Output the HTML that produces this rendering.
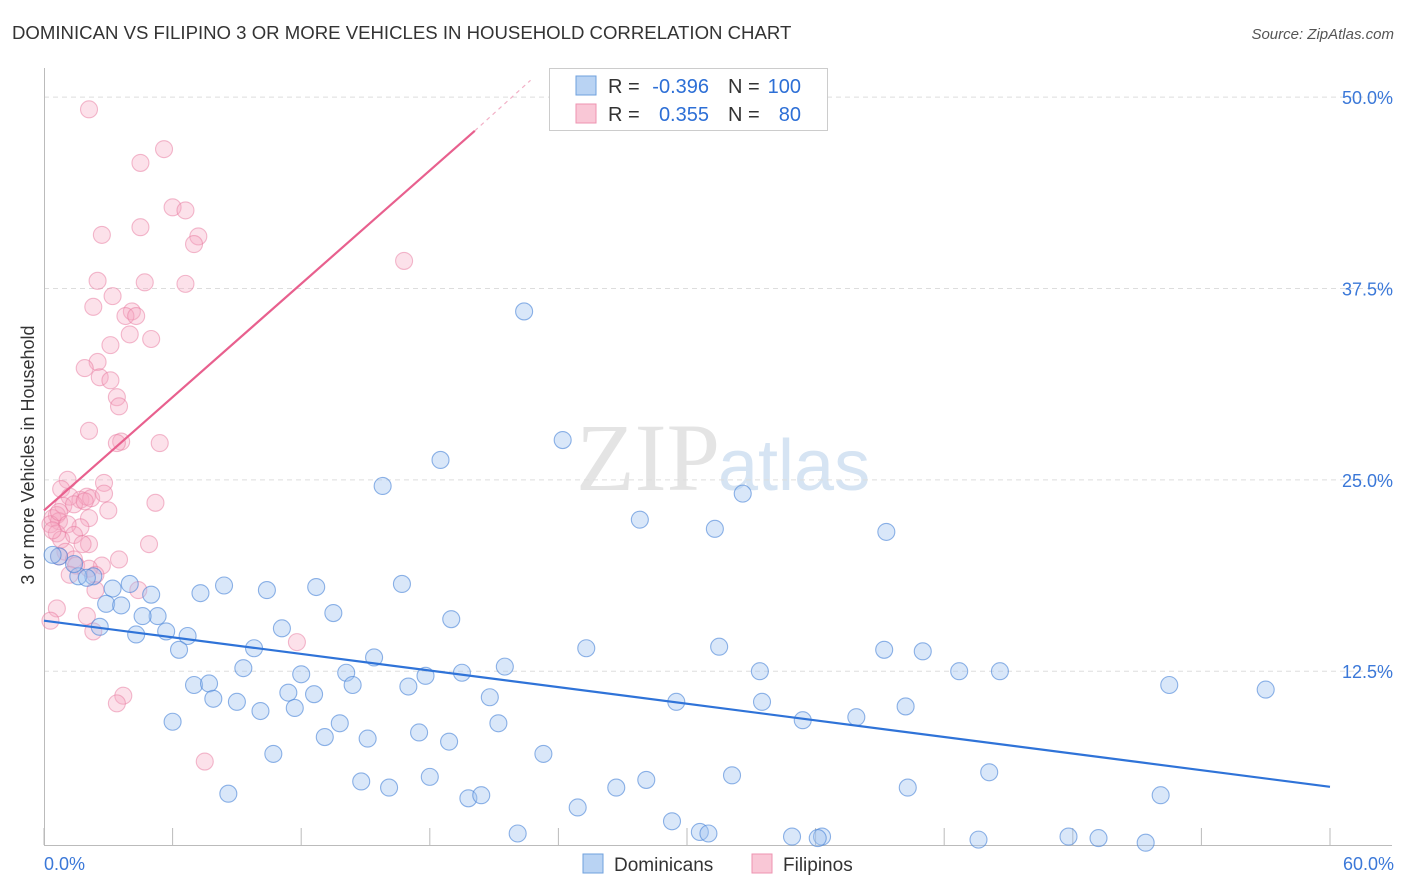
<!DOCTYPE html>
<html><head><meta charset="utf-8">
<style>
body{margin:0;background:#fff;font-family:"Liberation Sans",sans-serif;}
#wrap{position:relative;width:1406px;height:892px;overflow:hidden;}
</style></head>
<body>
<div id="wrap">
<svg id="svg" width="1406" height="892" xmlns="http://www.w3.org/2000/svg">
<text x="12" y="39" font-size="18.6" fill="#333">DOMINICAN VS FILIPINO 3 OR MORE VEHICLES IN HOUSEHOLD CORRELATION CHART</text>
<text x="1394" y="39" font-size="15" fill="#555" font-style="italic" text-anchor="end">Source: ZipAtlas.com</text>
<text x="720" y="490" font-size="96" fill="#e4e4e4" text-anchor="end" font-family="Liberation Serif,serif">ZIP</text>
<text x="718" y="490" font-size="72" fill="#d6e4f3">atlas</text>
<text transform="translate(34,455) rotate(-90)" font-size="18" fill="#333" text-anchor="middle">3 or more Vehicles in Household</text>
<g id="grid"></g><g id="pts"></g><g id="lines"></g>
<g>
<rect x="549.5" y="68.5" width="278" height="62" fill="#fff" stroke="#ccc"/>
<rect x="576" y="76" width="20" height="19" fill="#b9d3f3" stroke="#6fa0de"/>
<rect x="576" y="104" width="20" height="19" fill="#f9c7d6" stroke="#ee93b0"/>
<text x="608" y="93" font-size="20" fill="#333">R =</text>
<text x="709" y="93" font-size="20" fill="#2d6fd6" text-anchor="end">-0.396</text>
<text x="728" y="93" font-size="20" fill="#333">N =</text>
<text x="801" y="93" font-size="20" fill="#2d6fd6" text-anchor="end">100</text>
<text x="608" y="121" font-size="20" fill="#333">R =</text>
<text x="709" y="121" font-size="20" fill="#2d6fd6" text-anchor="end">0.355</text>
<text x="728" y="121" font-size="20" fill="#333">N =</text>
<text x="801" y="121" font-size="20" fill="#2d6fd6" text-anchor="end">80</text>
</g>
<g>
<rect x="583" y="854" width="20" height="19" fill="#b9d3f3" stroke="#6fa0de"/>
<text x="614" y="871" font-size="19" fill="#333">Dominicans</text>
<rect x="752" y="854" width="20" height="19" fill="#f9c7d6" stroke="#ee93b0"/>
<text x="783" y="871" font-size="19" fill="#333">Filipinos</text>
</g>
</svg>
</div>
<script>
const xTicks=[0,6,12,18,24,30,36,42,48,54,60];
const yTicks=[12.5,25,37.5,50];
const yTickLabels=["12.5%","25.0%","37.5%","50.0%"];
const xTickLabels=["0.0%","60.0%"];
const blueX=[22.4,24.2,18.5,15.8,32.6,27.8,31.3,39.3,16.7,8.4,10.4,12.7,7.3,5.0,4.0,3.2,2.3,1.6,2.0,1.4,0.7,0.4,2.9,3.6,5.3,4.6,13.5,19.0,11.1,4.3,5.7,6.7,2.6,6.3,9.8,15.4,25.3,31.5,39.2,41.0,21.5,19.5,17.8,14.1,12.0,9.3,33.4,42.7,44.6,7.0,7.7,7.9,9.0,11.4,12.6,10.1,11.7,14.4,17.0,20.8,29.5,33.5,37.9,40.2,52.5,57.0,6.0,13.8,21.2,35.4,13.1,15.1,17.5,18.9,10.7,23.3,8.6,14.8,16.1,18.0,19.8,20.4,24.9,26.7,28.1,32.1,40.3,44.1,52.1,22.1,29.3,30.6,31.0,34.9,36.3,36.1,43.6,47.8,49.2,51.4];
const blueY=[36.0,27.6,26.3,24.6,24.1,22.4,21.8,21.6,18.2,18.1,17.8,18.0,17.6,17.5,18.2,17.9,18.7,18.7,18.6,19.5,20.0,20.1,16.9,16.8,16.1,16.1,16.3,15.9,15.3,14.9,15.1,14.8,15.4,13.9,14.0,13.4,14.0,14.1,13.9,13.8,12.8,12.4,12.2,12.4,12.3,12.7,12.5,12.5,12.5,11.6,11.7,10.7,10.5,11.1,11.0,9.9,10.1,11.6,11.5,10.8,10.5,10.5,9.5,10.2,11.6,11.3,9.2,9.1,9.1,9.3,8.2,8.1,8.5,7.9,7.1,7.1,4.5,5.3,4.9,5.6,4.2,4.4,3.6,4.9,5.4,5.7,4.9,5.9,4.4,1.9,2.7,2.0,1.9,1.7,1.7,1.6,1.5,1.7,1.6,1.3];
const pinkX=[2.1,5.6,4.5,6.0,6.6,2.7,4.5,7.2,7.0,16.8,2.5,4.7,6.6,3.2,2.3,4.1,3.8,4.3,5.0,3.1,4.0,2.5,1.9,2.6,3.1,3.4,3.5,2.1,3.6,3.4,5.4,1.1,0.8,2.8,1.2,1.7,2.0,2.2,2.8,0.9,1.4,1.9,5.2,3.0,0.6,0.4,0.7,2.1,0.3,1.7,0.6,0.8,2.1,4.9,1.0,0.7,1.4,3.5,2.7,1.5,2.1,2.4,2.4,4.4,0.6,2.0,0.3,2.3,11.8,3.7,3.4,7.5,0.4,0.7,1.1,1.4,1.8,1.2];
const pinkY=[49.2,46.6,45.7,42.8,42.6,41.0,41.5,40.9,40.4,39.3,38.0,37.9,37.8,37.0,36.3,36.0,35.7,35.7,34.2,33.8,34.5,32.7,32.3,31.7,31.5,30.4,29.8,28.2,27.5,27.4,27.4,25.0,24.4,24.8,23.9,23.7,23.9,23.8,24.1,23.3,23.4,23.6,23.5,23.0,22.7,22.5,22.3,22.5,22.1,21.9,21.5,21.1,20.8,20.8,20.3,20.0,19.8,19.8,19.4,19.4,19.2,18.8,17.8,17.8,16.6,16.1,15.8,15.1,14.4,10.9,10.4,6.6,21.7,22.9,22.1,21.4,20.8,18.8];
const blueTrend=[[0,15.8],[60,4.95]];
const pinkTrend=[[0,23.0],[20.1,47.8]];
const pinkTrendExt=[[20.1,47.8],[22.7,51.1]];

const NS="http://www.w3.org/2000/svg";
const X=v=>44+v*(1286/60);
const Y=v=>862.6-v*15.31;
function mk(tag,parent,attrs){const e=document.createElementNS(NS,tag);for(const k in attrs)e.setAttribute(k,attrs[k]);parent.appendChild(e);return e;}
const grid=document.getElementById('grid'),pts=document.getElementById('pts'),lines=document.getElementById('lines');
yTicks.forEach((t,i)=>{
 const l=mk('line',grid,{x1:44,x2:1392,y1:Y(t),y2:Y(t),stroke:'#ddd','stroke-dasharray':'5,4'});
 
 
 const tx=mk('text',grid,{x:1393,y:Y(t)+7,'font-size':18,fill:'#3b78d8','text-anchor':'end'});
 tx.textContent=yTickLabels[i];
 
 
});
const ax=mk('line',grid,{x1:44,x2:1392,y1:845.5,y2:845.5,stroke:'#bbb'});


const ay=mk('line',grid,{x1:44.5,x2:44.5,y1:68,y2:845,stroke:'#bbb'});


xTicks.forEach(t=>{
 const l=mk('line',grid,{x1:X(t),x2:X(t),y1:828,y2:845,stroke:'#bbb'});
 
 
});
const xl0=mk('text',grid,{x:44,y:870,'font-size':18,fill:'#3b78d8'});xl0.textContent=xTickLabels[0];


const xl1=mk('text',grid,{x:1394,y:870,'font-size':18,fill:'#3b78d8','text-anchor':'end'});xl1.textContent=xTickLabels[1];


pinkX.forEach((v,i)=>{
 const c=mk('circle',pts,{cx:X(v),cy:Y(pinkY[i]),r:8.5,fill:'rgba(246,170,194,0.35)',stroke:'rgba(232,120,158,0.5)','stroke-width':1.1});
 
 
});
blueX.forEach((v,i)=>{
 const c=mk('circle',pts,{cx:X(v),cy:Y(blueY[i]),r:8.5,fill:'rgba(160,196,240,0.4)',stroke:'rgba(70,130,215,0.6)','stroke-width':1.1});
 
 
});
const bl=mk('line',lines,{x1:X(blueTrend[0][0]),y1:Y(blueTrend[0][1]),x2:X(blueTrend[1][0]),y2:Y(blueTrend[1][1]),stroke:'#2f73d8','stroke-width':2.2});


const pl=mk('line',lines,{x1:X(pinkTrend[0][0]),y1:Y(pinkTrend[0][1]),x2:X(pinkTrend[1][0]),y2:Y(pinkTrend[1][1]),stroke:'#e8608e','stroke-width':2.2});


const pe=mk('line',lines,{x1:X(pinkTrendExt[0][0]),y1:Y(pinkTrendExt[0][1]),x2:X(pinkTrendExt[1][0]),y2:Y(pinkTrendExt[1][1]),stroke:'#f2b0c6','stroke-width':1.2,'stroke-dasharray':'4,4'});


</script>
</body></html>
